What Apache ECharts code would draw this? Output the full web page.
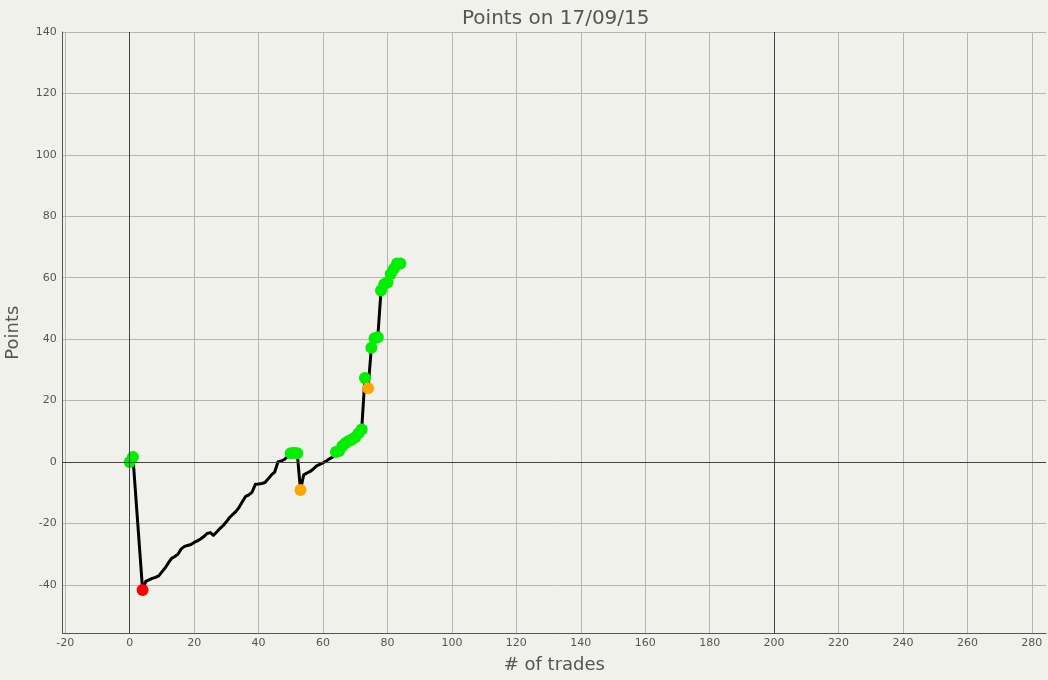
<!DOCTYPE html>
<html><head><meta charset="utf-8">
<script src="https://cdn.jsdelivr.net/npm/echarts@6/dist/echarts.min.js"></script>
<style>html,body{margin:0;padding:0;background:#f1f1ec}#c{width:1048px;height:680px}</style>
</head><body><div id="c"></div>
<script>
const trades = [0,1,4,5,6,7,8,9,10,11,12,13,14,15,16,17,18,19,20,21,22,23,24,25,26,27,28,29,30,31,32,33,34,35,36,37,38,39,40,41,42,43,44,45,46,47,48,49,50,51,52,53,54,55,56,57,58,59,60,61,62,63,64,65,66,67,68,69,70,71,72,73,74,75,76,77,78,79,80,81,82,83,84];
const points = [0,1.6,-41.7,-38.9,-38.4,-37.9,-37.6,-37.1,-35.8,-34.5,-32.9,-31.4,-30.8,-30.0,-28.3,-27.5,-27.2,-26.9,-26.2,-25.7,-25.1,-24.3,-23.3,-23.0,-23.9,-22.8,-21.7,-20.7,-19.5,-18.1,-17.1,-16.1,-14.7,-12.9,-11.2,-10.7,-9.8,-7.3,-7.2,-7.0,-6.7,-5.5,-4.2,-3.3,0.0,0.3,0.8,1.8,2.8,2.9,2.8,-9.1,-4.2,-3.6,-3.1,-2.3,-1.3,-0.8,-0.3,0.3,1.0,1.6,3.2,3.6,5.2,6.2,6.8,7.3,8.0,9.3,10.6,27.3,24.0,37.2,40.3,40.6,55.8,57.9,58.4,61.2,62.9,64.6,64.6];
const greenTrades = [0,1,50,51,52,64,65,66,67,68,69,70,71,72,73,75,76,77,78,79,80,81,82,83,84];
const redTrades = [4];
const orangeTrades = [53,74];
const xTicks = [-20,0,20,40,60,80,100,120,140,160,180,200,220,240,260,280];
const yTicks = [-40,-20,0,20,40,60,80,100,120,140];
const refLinesX = [0,200];
const refLinesY = [0];

const pick = list => list.map(t => [t, points[trades.indexOf(t)]]);
const lineData = trades.map((t,i) => [t, points[i]]);
const FONT = 'DejaVu Sans';
const TXT = '#555555';

const chart = echarts.init(document.getElementById('c'), null, {renderer:'canvas'});
chart.setOption({
  backgroundColor:'#f1f1ec',
  animation:false,
  title:{text:'Points on 17/09/15', left:457, top:4,
    textStyle:{fontFamily:FONT, fontSize:20, fontWeight:'normal', color:TXT}},
  grid:{left:62.7, right:2, top:32, bottom:46.7, containLabel:false, outerBoundsMode:'none'},
  xAxis:{type:'value', min:-20.8, max:284.4,
    name:'# of trades', nameLocation:'middle', nameGap:23,
    nameTextStyle:{fontFamily:FONT, fontSize:18, color:TXT},
    axisLine:{show:true, onZero:false, lineStyle:{color:'#555', width:1}},
    axisTick:{show:false, customValues:xTicks},
    axisLabel:{customValues:xTicks, color:TXT, fontFamily:FONT, fontSize:11, margin:4},
    splitLine:{show:true, lineStyle:{color:'#b6b6b2', width:1}}},
  yAxis:{type:'value', min:-55.8, max:140,
    name:'Points', nameLocation:'middle', nameGap:40, nameRotate:90,
    nameTextStyle:{fontFamily:FONT, fontSize:18, color:TXT},
    axisLine:{show:true, onZero:false, lineStyle:{color:'#555', width:1}},
    axisTick:{show:false, customValues:yTicks},
    axisLabel:{customValues:yTicks, color:TXT, fontFamily:FONT, fontSize:11, margin:6},
    splitLine:{show:true, lineStyle:{color:'#b6b6b2', width:1}}},
  series:[
    {type:'line', data:[], silent:true,
      markLine:{silent:true, symbol:'none', label:{show:false},
        lineStyle:{color:'#444', width:1, type:'solid'},
        data:[...refLinesX.map(v=>({xAxis:v})), ...refLinesY.map(v=>({yAxis:v}))]}},
    {type:'line', data:lineData, showSymbol:false, symbol:'none',
      lineStyle:{color:'#000', width:3, join:'round', cap:'round'}, z:3},
    {type:'scatter', data:pick(greenTrades), symbolSize:12, itemStyle:{color:'#00ee00', opacity:1}, z:4},
    {type:'scatter', data:pick(redTrades), symbolSize:12, itemStyle:{color:'#ff0000', opacity:1}, z:4},
    {type:'scatter', data:pick(orangeTrades), symbolSize:12, itemStyle:{color:'#ffa500', opacity:1}, z:4}
  ]
});
</script></body></html>
